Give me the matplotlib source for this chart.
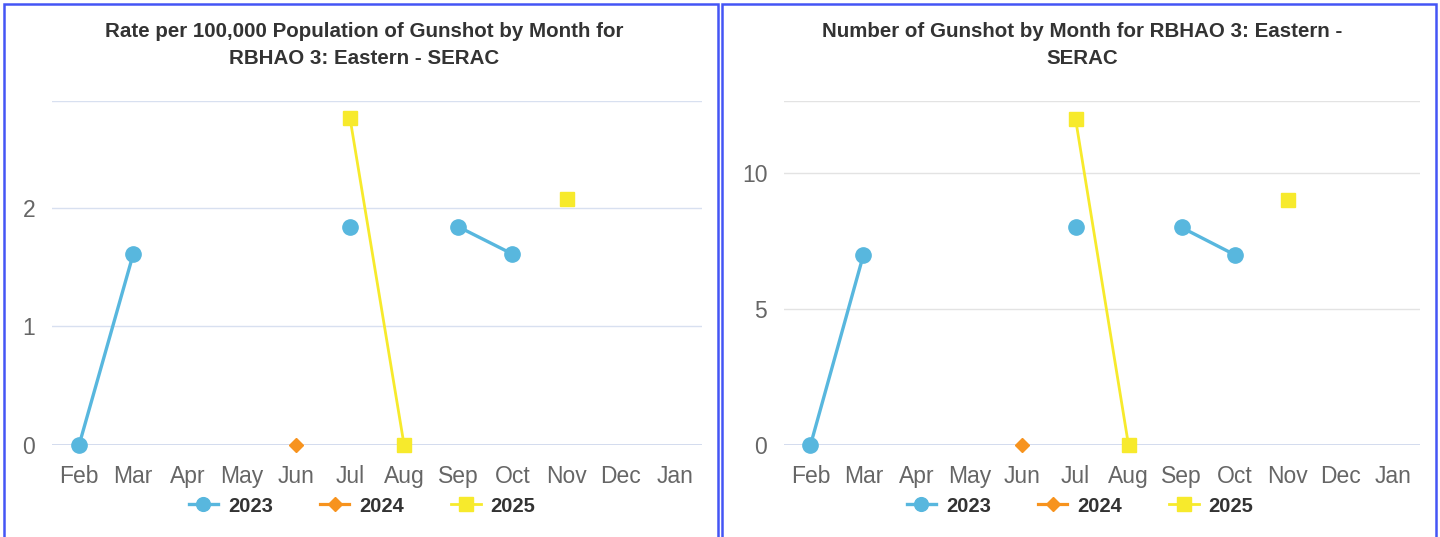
import numpy as np
import matplotlib
matplotlib.use("Agg")
import matplotlib.pyplot as plt
from matplotlib.patches import Rectangle

plt.rcParams['font.family'] = ['Liberation Sans', 'DejaVu Sans']

nan = np.nan

# Datos de los dos paneles
meses = ["Feb", "Mar", "Apr", "May", "Jun", "Jul", "Aug", "Sep", "Oct", "Nov", "Dec", "Jan"]
anios = ["2023", "2024", "2025"]

tasa_2023 = [0, 1.61, nan, nan, nan, 1.84, nan, 1.84, 1.61, nan, nan, nan]
tasa_2024 = [nan, nan, nan, nan, 0, nan, nan, nan, nan, nan, nan, nan]
tasa_2025 = [nan, nan, nan, nan, nan, 2.76, 0, nan, nan, 2.07, nan, nan]

conteo_2023 = [0, 7, nan, nan, nan, 8, nan, 8, 7, nan, nan, nan]
conteo_2024 = [nan, nan, nan, nan, 0, nan, nan, nan, nan, nan, nan, nan]
conteo_2025 = [nan, nan, nan, nan, nan, 12, 0, nan, nan, 9, nan, nan]

titulo_tasa = "Rate per 100,000 Population of Gunshot by Month for\nRBHAO 3: Eastern - SERAC"
titulo_conteo = "Number of Gunshot by Month for RBHAO 3: Eastern -\nSERAC"

colores = ["#58b7de", "#f7931e", "#f7ea2c"]
marcadores = ["o", "D", "s"]
tam_marcador = [11, 7.5, 10.5]
grosor = [2.4, 2.3, 2.0]

W, H = 1440, 537
fig = plt.figure(figsize=(W / 100, H / 100), dpi=100)


def px(x0, y0, x1, y1):
    # convierte pixeles a fracciones de la figura
    return [x0 / W, 1 - y1 / H, (x1 - x0) / W, (y1 - y0) / H]


def dibujar(rect, series, ymax, yticks, titulo, tx, ley_x, grid_color):
    ax = fig.add_axes(px(*rect))
    x = np.arange(len(meses))
    for i, serie in enumerate(series):
        ax.plot(x, serie, color=colores[i], marker=marcadores[i],
                markersize=tam_marcador[i], linewidth=grosor[i],
                label=anios[i], clip_on=False, zorder=3)
    ax.set_xlim(-0.5, len(meses) - 0.5)
    ax.set_ylim(0, ymax)
    ax.set_xticks(x)
    ax.set_xticklabels(meses)
    ax.set_yticks(yticks)
    for s in ax.spines.values():
        s.set_visible(False)
    for t in yticks[1:]:
        ax.axhline(t, color=grid_color, linewidth=1, zorder=1)
    ax.axhline(ymax, color=grid_color, linewidth=1, zorder=1)
    ax.axhline(0, color="#ccd6eb", linewidth=1.2, zorder=1)
    ax.tick_params(axis="both", length=0, labelsize=16.5, colors="#666666")
    ax.tick_params(axis="x", pad=14.5)
    ax.tick_params(axis="y", pad=12)
    fig.text(tx / W, 1 - 22 / H, titulo, ha="center", va="top", fontsize=14.8,
             fontweight="bold", color="#333333", linespacing=1.5)
    bx = (ley_x - rect[0]) / (rect[2] - rect[0])
    ley = ax.legend(loc="center", bbox_to_anchor=(bx, (445 - 506) / (rect[3] - rect[1])),
                    ncol=3, frameon=False, fontsize=14.5, handlelength=1.45,
                    columnspacing=2.35, handletextpad=0.5, markerscale=0.9)
    for t in ley.get_texts():
        t.set_fontweight("bold")
        t.set_color("#333333")
    return ax


dibujar((52, 101, 702, 445), [tasa_2023, tasa_2024, tasa_2025], 2.9, [0, 1, 2],
        titulo_tasa, 364, 362, "#d8e0f0")
dibujar((784, 101, 1420, 445), [conteo_2023, conteo_2024, conteo_2025], 12.65, [0, 5, 10],
        titulo_conteo, 1082, 1080, "#e3e3e3")

# Bordes azules de cada panel
for x0, x1 in [(4, 718), (722, 1436)]:
    fig.patches.append(Rectangle((x0 / W, -0.05), (x1 - x0) / W, 1 - 4 / H + 0.05,
                                 transform=fig.transFigure, fill=False,
                                 edgecolor="#4455f5", linewidth=1.8))

fig.savefig("out.png", dpi=100)
